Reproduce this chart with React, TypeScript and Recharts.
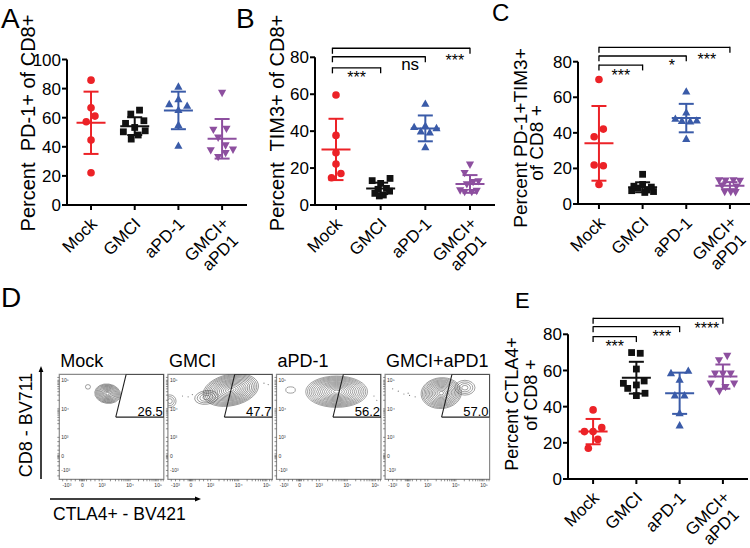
import React from 'react';
import {
  ScatterChart,
  Scatter,
  XAxis,
  YAxis,
  ErrorBar,
  ReferenceLine,
  ReferenceDot,
  ReferenceArea,
} from 'recharts';

const FONT = '"Liberation Sans", Arial, Helvetica, sans-serif';
const W = 750;
const H = 548;

// ---------- shared categories ----------
const CATEGORIES = ['Mock', 'GMCI', 'aPD-1', 'GMCI+\naPD1'];
const COLORS = ['#EC2227', '#111111', '#3A5BA8', '#8D4F9F'];
const SHAPES = ['circle', 'square', 'triangle', 'triangleDown'];

// ---------- Panel A: Percent PD-1+ of CD8+ ----------
const A_VALUES = [
  [85.8, 66.8, 61.1, 57.2, 44.6, 22.2],
  [62.5, 65.2, 56.1, 57.9, 53.3, 50.3, 51.0, 48.1, 45.3],
  [81.2, 72.5, 69.1, 68.0, 65.2, 54.9, 40.5],
  [77.3, 51.9, 52.6, 46.5, 41.2, 37.8, 38.2, 35.9, 33.2],
];
const A_JITTER = [
  [0, 0, 0.09, -0.11, 0, 0],
  [-0.09, 0.11, -0.21, 0.21, 0, -0.26, 0.24, 0.08, -0.08],
  [0, 0, -0.21, 0.2, 0, 0, 0],
  [0, -0.2, 0.1, -0.09, 0.08, -0.26, 0.25, 0.08, -0.09],
];
const A_MEAN = [56.5, 54.2, 65.0, 45.5];
const A_SD = [21.4, 6.1, 12.9, 13.6];
const A_TICKS = [0, 20, 40, 60, 80, 100];

// ---------- Panel B: Percent TIM3+ of CD8+ ----------
const B_VALUES = [
  [59.6, 37.7, 28.3, 22.2, 17.1, 14.8],
  [13.2, 14.4, 11.7, 9.0, 8.5, 7.5, 6.3, 5.4, 4.9],
  [54.7, 42.1, 42.8, 41.5, 39.7, 39.2, 31.2],
  [22.0, 17.5, 12.6, 13.0, 11.4, 8.1, 7.2, 7.2, 7.8],
];
const B_JITTER = [
  [0, 0, 0, 0, 0.11, -0.1],
  [-0.19, 0.21, 0, 0.13, -0.06, 0.2, -0.13, 0.06, -0.03],
  [0, -0.25, 0, 0.25, -0.1, 0.1, 0],
  [0, -0.12, 0.07, 0.19, -0.07, -0.22, -0.12, 0.04, 0.15],
];
const B_MEAN = [30.1, 9.0, 41.5, 11.4];
const B_SD = [16.6, 3.1, 7.0, 4.8];
const B_BRACKETS = [
  { from: 0.92, to: 2, y: 74.3, label: '***', lx: 1.46, dy: 4 },
  { from: 0.92, to: 3, y: 80.3, label: 'ns', lx: 2.66, dy: 1 },
  { from: 0.92, to: 4, y: 84.9, label: '***', lx: 3.66, dy: 6.5 },
];

// ---------- Panel C: Percent PD-1+TIM3+ of CD8+ ----------
const C_VALUES = [
  [70.0, 42.1, 37.8, 21.9, 21.5, 11.0],
  [16.7, 11.0, 10.0, 9.5, 9.0, 8.0, 7.5, 7.0, 6.5],
  [63.1, 51.3, 47.8, 46.6, 46.8, 46.3, 36.5],
  [13.5, 13.3, 13.5, 13.2, 10.5, 10.0, 7.0, 7.0, 6.8],
];
const C_JITTER = [
  [0, 0.1, -0.11, -0.11, 0.1, 0],
  [0, 0, -0.2, 0.2, -0.1, 0.1, -0.25, 0.25, 0.05],
  [0, 0, -0.25, -0.1, 0.24, 0.09, 0],
  [-0.25, -0.1, 0.08, 0.23, -0.18, 0.15, -0.12, 0.02, 0.13],
];
const C_MEAN = [34.1, 9.4, 48.3, 10.3];
const C_SD = [21.0, 2.8, 8.0, 2.0];
const C_BRACKETS = [
  { from: 1, to: 2, y: 78.1, label: '***', lx: 1.5, dy: 5 },
  { from: 1, to: 3, y: 83.2, label: '*', lx: 2.67, dy: 4 },
  { from: 1, to: 4, y: 88.1, label: '***', lx: 3.47, dy: 6 },
];
const BCE_TICKS = [0, 20, 40, 60, 80];

// ---------- Panel E: Percent CTLA4+ of CD8+ ----------
const E_VALUES = [
  [38.2, 28.4, 26.2, 26.2, 21.9, 17.0],
  [69.9, 69.5, 60.8, 52.9, 54.2, 52.0, 50.1, 47.4, 46.1],
  [58.4, 59.7, 54.7, 46.1, 46.1, 36.3, 29.5],
  [65.8, 68.2, 58.4, 58.4, 58.4, 52.9, 52.9, 51.0, 48.7],
];
const E_JITTER = [
  [0, 0.2, -0.2, 0, 0.11, -0.11],
  [-0.11, 0.09, 0, -0.3, 0.18, 0, -0.2, 0.2, 0],
  [-0.2, 0.2, 0, -0.11, 0.11, 0, 0],
  [-0.09, 0.1, -0.18, 0, 0.18, -0.28, 0.26, 0.06, -0.08],
];
const E_MEAN = [26.2, 56.0, 47.4, 56.6];
const E_SD = [7.0, 8.8, 11.4, 6.7];
const E_BRACKETS = [
  { from: 1, to: 2, y: 78.7, label: '***', lx: 1.5, dy: 4 },
  { from: 1, to: 3, y: 84.2, label: '***', lx: 2.59, dy: 4 },
  { from: 1, to: 4, y: 88.8, label: '****', lx: 3.63, dy: 4.5 },
];

// ---------- Panel D: flow cytometry ----------
const FLOW_TITLES = ['Mock', 'GMCI', 'aPD-1', 'GMCI+aPD1'];
const FLOW_GATE_PCT = ['26.5', '47.7', '56.2', '57.0'];
const FLOW_X_DOMAIN = [1.48, 5.2];
const FLOW_Y_DOMAIN = [1.53, 5.21];
const FLOW_X_MAJOR: Record<string, string> = { '1.75': '-10³', '2.3': '0', '3': '10³', '4': '10⁴', '5': '10⁵' };
const FLOW_Y_MAJOR: Record<string, string> = { '1.84': '-10³', '2.33': '0', '3': '10³', '4': '10⁴', '5': '10⁵' };
const FLOW_X_TICKS = [1.6, 1.75, 1.9, 2.05, 2.2, 2.25, 2.28, 2.3, 2.33, 2.37, 2.45, 2.6, 2.75, 2.9, 3, 3.3, 3.48, 3.6, 3.7, 3.78, 3.85, 3.9, 3.95, 4, 4.3, 4.48, 4.6, 4.7, 4.78, 4.85, 4.9, 4.95, 5, 5.1, 5.18];
const FLOW_Y_TICKS = [1.65, 1.84, 2.0, 2.15, 2.25, 2.3, 2.33, 2.36, 2.42, 2.55, 2.7, 2.85, 3, 3.3, 3.48, 3.6, 3.7, 3.78, 3.85, 3.9, 3.95, 4, 4.3, 4.48, 4.6, 4.7, 4.78, 4.85, 4.9, 4.95, 5, 5.1];
const FLOW_GATE = [
  { x: 3.49, y: 3.71 },
  { x: 3.86, y: 5.21 },
  { x: 5.2, y: 5.21 },
  { x: 5.2, y: 3.71 },
  { x: 3.49, y: 3.71 },
];
const FLOW_BLOBS = [
  [
    { x: 3.2, y: 4.53, rx: 0.46, ry: 0.34, rot: 8, n: 11 },
    { x: 2.5, y: 4.77, rx: 0.09, ry: 0.08, rot: 0, n: 1 },
  ],
  [
    { x: 3.72, y: 4.66, rx: 1.0, ry: 0.55, rot: -12, n: 14 },
    { x: 2.85, y: 4.4, rx: 0.42, ry: 0.24, rot: -8, n: 4 },
    { x: 1.55, y: 4.27, rx: 0.22, ry: 0.22, rot: 0, n: 3 },
  ],
  [
    { x: 3.62, y: 4.6, rx: 1.1, ry: 0.55, rot: 0, n: 15 },
    { x: 1.98, y: 4.66, rx: 0.17, ry: 0.11, rot: 0, n: 1 },
  ],
  [
    { x: 3.48, y: 4.55, rx: 0.72, ry: 0.54, rot: -5, n: 13 },
    { x: 4.32, y: 4.74, rx: 0.36, ry: 0.26, rot: 0, n: 4 },
  ],
];
const FLOW_DOTS = [
  [],
  [
    { x: 2.0, y: 4.45 }, { x: 2.2, y: 4.42 }, { x: 2.35, y: 4.5 }, { x: 4.9, y: 4.9 }, { x: 5.05, y: 4.85 },
  ],
  [
    { x: 4.95, y: 4.45 }, { x: 5.05, y: 4.3 },
  ],
  [
    { x: 1.75, y: 4.7 }, { x: 1.95, y: 4.62 }, { x: 2.15, y: 4.52 }, { x: 2.35, y: 4.47 }, { x: 2.55, y: 4.42 }, { x: 2.3, y: 4.55 },
  ],
];

// ---------- geometry (styling) ----------
const PANELS_GEOM = {
  A: { left: 67, right: 247, top: 59.5, bottom: 205, xDomain: [0.45, 4.57] },
  B: { left: 315, right: 495, top: 57.3, bottom: 205, xDomain: [0.53, 4.56] },
  C: { left: 578, right: 750, top: 61.7, bottom: 204, xDomain: [0.52, 4.46] },
  E: { left: 568, right: 748, top: 334.3, bottom: 479, xDomain: [0.42, 4.58] },
};
const FLOW_BOX = { left0: 59.3, step: 108.6, width: 104.5, top: 374.3, height: 105 };
const PX_X = FLOW_BOX.width / (FLOW_X_DOMAIN[1] - FLOW_X_DOMAIN[0]);
const PX_Y = FLOW_BOX.height / (FLOW_Y_DOMAIN[1] - FLOW_Y_DOMAIN[0]);

const markerShape = (kind: string, color: string) => (props: any) => {
  const { cx, cy } = props;
  if (cx == null || cy == null) return <g />;
  if (kind === 'circle') return <circle cx={cx} cy={cy} r={3.8} fill={color} />;
  if (kind === 'square')
    return <rect x={cx - 3.4} y={cy - 3.4} width={6.8} height={6.8} fill={color} />;
  if (kind === 'triangle')
    return <path d={`M${cx},${cy - 4.6}L${cx + 4.1},${cy + 2.8}L${cx - 4.1},${cy + 2.8}Z`} fill={color} />;
  return <path d={`M${cx},${cy + 4.6}L${cx + 4.1},${cy - 2.8}L${cx - 4.1},${cy - 2.8}Z`} fill={color} />;
};

const meanShape = (color: string) => (props: any) => {
  const { cx, cy } = props;
  if (cx == null || cy == null) return <g />;
  return <line x1={cx - 14.5} x2={cx + 14.5} y1={cy} y2={cy} stroke={color} strokeWidth={2} />;
};

const CatTick = (props: any) => {
  const { x, y, payload } = props;
  const label = CATEGORIES[Math.round(payload.value) - 1] || '';
  const lines = label.split('\n');
  if (lines.length === 1) {
    return (
      <g transform={`translate(${x + 7},${y + 13})`}>
        <text transform="rotate(-45)" textAnchor="end" fontSize={17} fontFamily={FONT} fill="#000">
          {label}
        </text>
      </g>
    );
  }
  return (
    <g transform={`translate(${x + 7},${y + 13})`}>
      <text transform="rotate(-45)" textAnchor="middle" fontSize={17} fontFamily={FONT} fill="#000">
        <tspan x={-26} dy={0}>{lines[0]}</tspan>
        <tspan x={-26} dy={19}>{lines[1]}</tspan>
      </text>
    </g>
  );
};

const bracketLabel = (text: string, dy: number) => (p: any) => {
  const vb = p.viewBox || {};
  const cx = (vb.x ?? 0) + (vb.width ?? 0) / 2;
  const cy = (vb.y ?? 0) + (vb.height ?? 0) / 2;
  return (
    <text x={cx} y={cy + dy} dy="0.71em" textAnchor="middle" fontSize={text === 'ns' ? 17 : 16} fontFamily={FONT} fill="#000">
      {text}
    </text>
  );
};

function DotPlot(props: any) {
  const { geom, yMax, yTicks, values, jitter, means, sds, brackets } = props;
  const XH = 60;
  const YW = 60;
  const margin = {
    left: geom.left - YW,
    right: W - geom.right,
    top: geom.top,
    bottom: H - geom.bottom - XH,
  };
  const tick = 3;
  return (
    <div style={{ position: 'absolute', left: 0, top: 0 }}>
      <ScatterChart width={W} height={H} margin={margin}>
        <XAxis
          type="number"
          dataKey="x"
          domain={geom.xDomain}
          ticks={[1, 2, 3, 4]}
          interval={0}
          allowDataOverflow
          height={XH}
          tickSize={5}
          tickMargin={2}
          axisLine={{ stroke: '#000', strokeWidth: 2 }}
          tickLine={{ stroke: '#000', strokeWidth: 2 }}
          tick={<CatTick />}
        />
        <YAxis
          type="number"
          dataKey="y"
          domain={[0, yMax]}
          ticks={yTicks}
          interval={0}
          allowDataOverflow
          width={YW}
          tickSize={5}
          tickMargin={1}
          axisLine={{ stroke: '#000', strokeWidth: 2 }}
          tickLine={{ stroke: '#000', strokeWidth: 2 }}
          tick={{ fontSize: 17, fill: '#000', fontFamily: FONT }}
        />
        {values.map((vals: number[], g: number) => (
          <Scatter
            key={'pts' + g}
            data={vals.map((v, i) => ({ x: g + 1 + jitter[g][i], y: v }))}
            shape={markerShape(SHAPES[g], COLORS[g])}
            isAnimationActive={false}
          />
        ))}
        {means.map((m: number, g: number) => (
          <Scatter
            key={'mean' + g}
            data={[{ x: g + 1, y: m, sd: sds[g] }]}
            shape={meanShape(COLORS[g])}
            isAnimationActive={false}
          >
            <ErrorBar dataKey="sd" direction="y" width={7.5} stroke={COLORS[g]} strokeWidth={2} />
          </Scatter>
        ))}
        {(brackets || []).map((b: any, i: number) => (
          <ReferenceLine
            key={'bh' + i}
            segment={[{ x: b.from, y: b.y }, { x: b.to, y: b.y }]}
            ifOverflow="visible"
            stroke="#000"
            strokeWidth={1.3}
          />
        ))}
        {(brackets || []).map((b: any, i: number) => (
          <ReferenceLine
            key={'bl' + i}
            segment={[{ x: b.from, y: b.y + 0.3 }, { x: b.from, y: b.y - tick }]}
            ifOverflow="visible"
            stroke="#000"
            strokeWidth={1.3}
          />
        ))}
        {(brackets || []).map((b: any, i: number) => (
          <ReferenceLine
            key={'br' + i}
            segment={[{ x: b.to, y: b.y + 0.3 }, { x: b.to, y: b.y - tick }]}
            ifOverflow="visible"
            stroke="#000"
            strokeWidth={1.3}
          />
        ))}
        {(brackets || []).map((b: any, i: number) => (
          <ReferenceDot
            key={'bt' + i}
            x={b.lx}
            y={b.y}
            r={0}
            fill="none"
            stroke="none"
            ifOverflow="visible"
            label={bracketLabel(b.label, b.dy)}
          />
        ))}
      </ScatterChart>
    </div>
  );
}

const contourShape = (props: any) => {
  const { cx, cy, payload } = props;
  if (cx == null || cy == null) return <g />;
  const rx = payload.rx * PX_X;
  const ry = payload.ry * PX_Y;
  const rings = [];
  for (let k = 1; k <= payload.n; k++) {
    const f = Math.pow(k / payload.n, 0.85);
    rings.push(
      <ellipse key={k} cx={cx} cy={cy} rx={rx * f} ry={ry * f} fill="none" stroke="#555" strokeWidth={0.55} />
    );
  }
  return <g transform={`rotate(${payload.rot} ${cx} ${cy})`}>{rings}</g>;
};

const dotShape = (props: any) => {
  const { cx, cy } = props;
  if (cx == null || cy == null) return <g />;
  return <circle cx={cx} cy={cy} r={0.6} fill="#777" />;
};

const FlowXTick = (props: any) => {
  const { x, y, payload } = props;
  const lbl = FLOW_X_MAJOR[String(payload.value)];
  if (!lbl) return <g />;
  return (
    <text x={x} y={y + 4} textAnchor="middle" fontSize={5} fontFamily={FONT} fill="#333">
      {lbl}
    </text>
  );
};

const FlowYTick = (props: any) => {
  const { x, y, payload } = props;
  const lbl = FLOW_Y_MAJOR[String(payload.value)];
  if (!lbl) return <g />;
  return (
    <text x={x + 6} y={y + 2} textAnchor="start" fontSize={5} fontFamily={FONT} fill="#333">
      {lbl}
    </text>
  );
};

function FlowPlot({ index }: { index: number }) {
  const left = FLOW_BOX.left0 + index * FLOW_BOX.step;
  const XH = 16;
  const YW = 6;
  const margin = {
    left: left - YW,
    right: W - left - FLOW_BOX.width,
    top: FLOW_BOX.top,
    bottom: H - FLOW_BOX.top - FLOW_BOX.height - XH,
  };
  return (
    <div style={{ position: 'absolute', left: 0, top: 0 }}>
      <ScatterChart width={W} height={H} margin={margin}>
        <XAxis
          type="number"
          dataKey="x"
          domain={FLOW_X_DOMAIN}
          ticks={FLOW_X_TICKS}
          interval={0}
          allowDataOverflow
          height={XH}
          tickSize={2}
          axisLine={false}
          tickLine={{ stroke: '#444', strokeWidth: 0.6 }}
          tick={<FlowXTick />}
        />
        <YAxis
          type="number"
          dataKey="y"
          domain={FLOW_Y_DOMAIN}
          ticks={FLOW_Y_TICKS}
          interval={0}
          allowDataOverflow
          width={YW}
          tickSize={2}
          axisLine={false}
          tickLine={{ stroke: '#444', strokeWidth: 0.6 }}
          tick={<FlowYTick />}
        />
        <ReferenceArea
          x1={FLOW_X_DOMAIN[0]}
          x2={FLOW_X_DOMAIN[1]}
          y1={FLOW_Y_DOMAIN[0]}
          y2={FLOW_Y_DOMAIN[1]}
          fill="none"
          stroke="#8a8a8a"
          strokeWidth={1.2}
          ifOverflow="visible"
        />
        <Scatter data={FLOW_DOTS[index]} shape={dotShape} isAnimationActive={false} />
        <Scatter data={FLOW_BLOBS[index]} shape={contourShape} isAnimationActive={false} />
        <Scatter
          data={FLOW_GATE}
          line={{ stroke: '#222', strokeWidth: 1.1 }}
          shape={() => <g />}
          isAnimationActive={false}
        />
        <ReferenceDot
          x={FLOW_GATE[3].x}
          y={FLOW_GATE[3].y}
          r={0}
          fill="none"
          stroke="none"
          ifOverflow="visible"
          label={(p: any) => {
            const vb = p.viewBox || {};
            const cx = (vb.x ?? 0) + (vb.width ?? 0) / 2;
            const cy = (vb.y ?? 0) + (vb.height ?? 0) / 2;
            return (
              <text x={cx - 1} y={cy - 1} textAnchor="end" fontSize={13} fontFamily={FONT} fill="#000">
                {FLOW_GATE_PCT[index]}
              </text>
            );
          }}
        />
      </ScatterChart>
    </div>
  );
}

function Overlay() {
  const t = { fontFamily: FONT, fill: '#000' } as any;
  return (
    <svg width={W} height={H} style={{ position: 'absolute', left: 0, top: 0, pointerEvents: 'none' }}>
      <text x={1} y={28} fontSize={28} {...t}>A</text>
      <text x={236} y={28} fontSize={28} {...t}>B</text>
      <text x={492} y={21} fontSize={24} {...t}>C</text>
      <text x={1} y={307} fontSize={28} {...t}>D</text>
      <text x={515} y={308} fontSize={22} {...t}>E</text>

      <text x={34.5} y={123} fontSize={20} textAnchor="middle" transform="rotate(-90 34.5 123)" style={{ whiteSpace: 'pre' }} {...t}>
        {'Percent  PD-1+ of CD8+'}
      </text>
      <text x={284} y={123} fontSize={20} textAnchor="middle" transform="rotate(-90 284 123)" style={{ whiteSpace: 'pre' }} {...t}>
        {'Percent  TIM3+ of CD8+'}
      </text>
      <text x={527} y={138} fontSize={19} textAnchor="middle" transform="rotate(-90 527 138)" {...t}>
        Percent PD-1+TIM3+
      </text>
      <text x={543} y={143} fontSize={19} textAnchor="middle" transform="rotate(-90 543 143)" {...t}>
        of CD8 +
      </text>
      <text x={518} y={404} fontSize={18} textAnchor="middle" transform="rotate(-90 518 404)" {...t}>
        Percent CTLA4+
      </text>
      <text x={537} y={395} fontSize={18} textAnchor="middle" transform="rotate(-90 537 395)" {...t}>
        of CD8 +
      </text>

      {FLOW_TITLES.map((s, i) => (
        <text key={s} x={FLOW_BOX.left0 + i * FLOW_BOX.step + 1} y={367} fontSize={18} {...t}>
          {s}
        </text>
      ))}
      <text x={31.5} y={425} fontSize={18} textAnchor="middle" transform="rotate(-90 31.5 425)" {...t}>
        CD8 - BV711
      </text>
      <text x={53} y={520} fontSize={17.5} {...t}>CTLA4+ - BV421</text>
      <line x1={41} y1={479} x2={41} y2={371} stroke="#000" strokeWidth={1.5} />
      <path d="M41,366 L38.6,372 L43.4,372 Z" fill="#000" />
      <line x1={50} y1={499} x2={196} y2={499} stroke="#000" strokeWidth={1.5} />
      <path d="M201,499 L195,496.6 L195,501.4 Z" fill="#000" />
    </svg>
  );
}

export default function App() {
  return (
    <div style={{ position: 'absolute', left: 0, top: 0, width: W, height: H, background: '#fff', overflow: 'hidden' }}>
      <DotPlot geom={PANELS_GEOM.A} yMax={100} yTicks={A_TICKS} values={A_VALUES} jitter={A_JITTER} means={A_MEAN} sds={A_SD} brackets={[]} />
      <DotPlot geom={PANELS_GEOM.B} yMax={80} yTicks={BCE_TICKS} values={B_VALUES} jitter={B_JITTER} means={B_MEAN} sds={B_SD} brackets={B_BRACKETS} />
      <DotPlot geom={PANELS_GEOM.C} yMax={80} yTicks={BCE_TICKS} values={C_VALUES} jitter={C_JITTER} means={C_MEAN} sds={C_SD} brackets={C_BRACKETS} />
      <DotPlot geom={PANELS_GEOM.E} yMax={80} yTicks={BCE_TICKS} values={E_VALUES} jitter={E_JITTER} means={E_MEAN} sds={E_SD} brackets={E_BRACKETS} />
      {[0, 1, 2, 3].map((i) => (
        <FlowPlot key={i} index={i} />
      ))}
      <Overlay />
    </div>
  );
}
